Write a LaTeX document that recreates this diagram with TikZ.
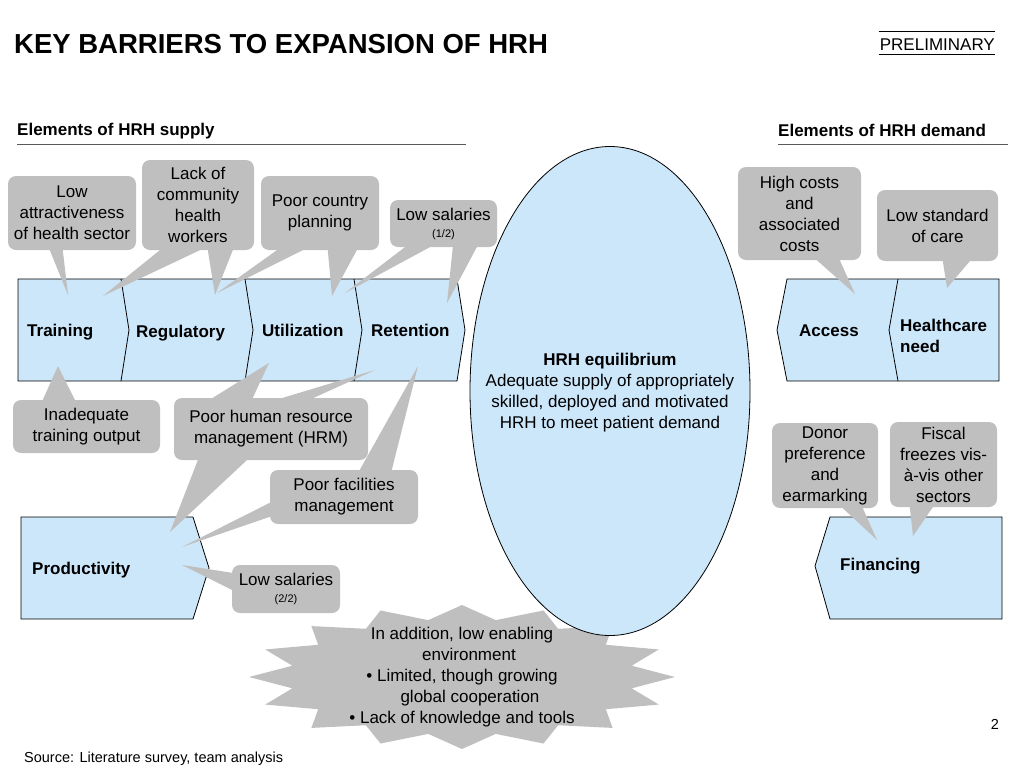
\documentclass[tikz,border=0pt]{standalone}
\usepackage{fontspec}
\setmainfont{Liberation Sans}
\usetikzlibrary{shapes.geometric}
\definecolor{callgray}{RGB}{191,191,191}
\definecolor{lightblue}{RGB}{204,230,250}

\begin{document}
\begin{tikzpicture}[x=1pt,y=-1pt,
  callout/.style={fill=callgray,rounded corners=8pt,inner sep=0pt,align=center,font=\fontsize{17}{21}\selectfont},
  chev/.style={fill=lightblue,draw=black,line width=0.8pt},
  lbl/.style={anchor=base west,inner sep=0pt,align=left,font=\fontsize{17}{21}\selectfont\bfseries},
  head/.style={anchor=base west,inner sep=0pt,font=\fontsize{17}{21}\selectfont\bfseries}]

\useasboundingbox (0,0) rectangle (1024,768);

\def\small{\fontsize{11}{13}\selectfont}

\node[anchor=base west,inner sep=0pt,font=\fontsize{27.5}{32}\selectfont\bfseries] (title) at (14,54) {KEY BARRIERS TO EXPANSION OF HRH};
\node[anchor=base east,inner sep=0pt,font=\fontsize{17}{21}\selectfont] (prelim) at (995,50) {PRELIMINARY};
\draw[line width=0.8pt] ([xshift=-1pt,yshift=7pt]prelim.north west) -- ([yshift=7pt]prelim.north east);
\draw[line width=0.8pt] ([xshift=-1pt,yshift=-4pt]prelim.south west) -- ([yshift=-4pt]prelim.south east);

\node[head] (supply) at (17,135) {Elements of HRH supply};
\node[head] (demand) at (778,136) {Elements of HRH demand};
\draw[gray!70!black,line width=1pt] (17,144) -- (466,144);
\draw[gray!70!black,line width=1pt] (778,144) -- (1008,144);

\draw[chev] (18,279) -- (457,279) -- (465,330) -- (457,381) -- (18,381) -- cycle;
\foreach \x in {121,245,354}
  \draw[line width=0.8pt] (\x,279) -- (\x+8,330) -- (\x,381);
\draw[chev] (787,279) -- (999,279) -- (999,381) -- (787,381) -- (777,330) -- cycle;
\draw[line width=0.8pt] (898,279) -- (889,330) -- (898,381);
\draw[chev] (21,517) -- (193,517) -- (209,568) -- (193,619) -- (21,619) -- cycle;
\draw[chev] (830,517) -- (1002,517) -- (1002,619) -- (830,619) -- (815,566) -- cycle;

\node[lbl] (training) at (27,336) {Training};
\node[lbl] (regulatory) at (136,337) {Regulatory};
\node[lbl] (utilization) at (262,336) {Utilization};
\node[lbl] (retention) at (371,336) {Retention};
\node[lbl] (access) at (799,336) {Access};
\node[lbl,anchor=west] (need) at (900,336) {Healthcare\\need};
\node[lbl] (productivity) at (32,574) {Productivity};
\node[lbl] (financing) at (840,570) {Financing};

\fill[callgray] plot[variable=\i,samples at={0,...,31}]
  ({462+(193+20*cos(180*\i))*cos(11.25*\i)},{677+(65+7*cos(180*\i))*sin(11.25*\i)}) -- cycle;

\node[ellipse,draw=black,line width=0.8pt,fill=lightblue,minimum width=280,minimum height=489,inner sep=0pt] (equil) at (610,391) {};
\node[align=center,inner sep=0pt,font=\fontsize{17}{21}\selectfont] (equiltext) at ([yshift=-2pt]equil.center)
  {\textbf{HRH equilibrium}\\Adequate supply of appropriately\\skilled, deployed and motivated\\HRH to meet patient demand};

\node[align=center,inner sep=0pt,font=\fontsize{17}{21}\selectfont] (envt) at (462,677)
  {In addition, low enabling\\\hspace*{14pt}environment\\\textbullet{} Limited, though growing\\\hspace*{16pt}global cooperation\\\textbullet{} Lack of knowledge and tools};

\node[callout,minimum width=128,minimum height=74] (lowattr) at (72,213) {Low\\attractiveness\\of health sector};
\node[callout,minimum width=112,minimum height=90] (lackchw) at (198,205) {Lack of\\community\\health\\workers};
\node[callout,minimum width=118,minimum height=74] (poorplan) at (320,213) {Poor country\\planning};
\node[callout,minimum width=107,minimum height=47] (lowsal1) at (443.5,223.5) {Low salaries\\[-4pt]{\small (1/2)}};
\node[callout,minimum width=147,minimum height=53] (inadeq) at (86.5,426.5) {Inadequate\\training output};
\node[callout,minimum width=194,minimum height=62] (poorhrm) at (271,429) {Poor human resource\\management (HRM)};
\node[callout,minimum width=148,minimum height=54] (poorfac) at (344,497) {Poor facilities\\management};
\node[callout,minimum width=108,minimum height=48] (lowsal2) at (286,589) {Low salaries\\[-4pt]{\small (2/2)}};
\node[callout,minimum width=123,minimum height=93] (highcost) at (799.5,213.5) {High costs\\and\\associated\\costs};
\node[callout,minimum width=121,minimum height=71] (lowstd) at (937.5,225.5) {Low standard\\of care};
\node[callout,minimum width=106,minimum height=85] (donor) at (825,465.5) {Donor\\preference\\and\\earmarking};
\node[callout,minimum width=107,minimum height=85] (fiscal) at (943.5,464.5) {Fiscal\\freezes vis-\\à-vis other\\sectors};

\coordinate (t1) at (68,295);
\coordinate (t2) at (103,296);
\coordinate (t3) at (215,295);
\coordinate (t4) at (217,293);
\coordinate (t5) at (332,296);
\coordinate (t6) at (345,293);
\coordinate (t7) at (447,303);
\coordinate (t8) at (58,366);
\coordinate (t9) at (269,363);
\coordinate (t10) at (375,370);
\coordinate (t11) at (170,532);
\coordinate (t12) at (418,366);
\coordinate (t13) at (182,547);
\coordinate (t14) at (182,565);
\coordinate (t15) at (855,294);
\coordinate (t16) at (947,288);
\coordinate (t17) at (877,540);
\coordinate (t18) at (913,536);

\fill[callgray] ([xshift=42pt]lowattr.south west) -- ([xshift=55pt]lowattr.south west) -- (t1) -- cycle;
\fill[callgray] ([xshift=18pt]lackchw.south west) -- ([xshift=58pt]lackchw.south west) -- (t2) -- cycle;
\fill[callgray] ([xshift=66pt]lackchw.south west) -- ([xshift=91pt]lackchw.south west) -- (t3) -- cycle;
\fill[callgray] ([xshift=16pt]poorplan.south west) -- ([xshift=42pt]poorplan.south west) -- (t4) -- cycle;
\fill[callgray] ([xshift=67pt]poorplan.south west) -- ([xshift=96pt]poorplan.south west) -- (t5) -- cycle;
\fill[callgray] ([xshift=15pt]lowsal1.south west) -- ([xshift=40pt]lowsal1.south west) -- (t6) -- cycle;
\fill[callgray] ([xshift=63pt]lowsal1.south west) -- ([xshift=87pt]lowsal1.south west) -- (t7) -- cycle;
\fill[callgray] ([xshift=30pt]inadeq.north west) -- ([xshift=62pt]inadeq.north west) -- (t8) -- cycle;
\fill[callgray] ([xshift=39pt]poorhrm.north west) -- ([xshift=79pt]poorhrm.north west) -- (t9) -- cycle;
\fill[callgray] ([xshift=109pt]poorhrm.north west) -- ([xshift=140pt]poorhrm.north west) -- (t10) -- cycle;
\fill[callgray] ([xshift=24pt]poorhrm.south west) -- ([xshift=73pt]poorhrm.south west) -- (t11) -- cycle;
\fill[callgray] ([xshift=90pt]poorfac.north west) -- ([xshift=122pt]poorfac.north west) -- (t12) -- cycle;
\fill[callgray] ([yshift=-33pt]poorfac.north west) -- ([yshift=-47pt]poorfac.north west) -- (t13) -- cycle;
\fill[callgray] ([yshift=-8pt]lowsal2.north west) -- ([yshift=-25pt]lowsal2.north west) -- (t14) -- cycle;
\fill[callgray] ([xshift=79pt]highcost.south west) -- ([xshift=102pt]highcost.south west) -- (t15) -- cycle;
\fill[callgray] ([xshift=66pt]lowstd.south west) -- ([xshift=93pt]lowstd.south west) -- (t16) -- cycle;
\fill[callgray] ([xshift=71pt]donor.south west) -- ([xshift=91pt]donor.south west) -- (t17) -- cycle;
\fill[callgray] ([xshift=20pt]fiscal.south west) -- ([xshift=43pt]fiscal.south west) -- (t18) -- cycle;

\node[anchor=base west,inner sep=0pt,font=\fontsize{14.5}{17}\selectfont] (source) at (24,762) {Source: Literature survey, team analysis};
\node[anchor=base east,inner sep=0pt,font=\fontsize{14.5}{17}\selectfont] (page) at (999,729) {2};

\end{tikzpicture}
\end{document}
